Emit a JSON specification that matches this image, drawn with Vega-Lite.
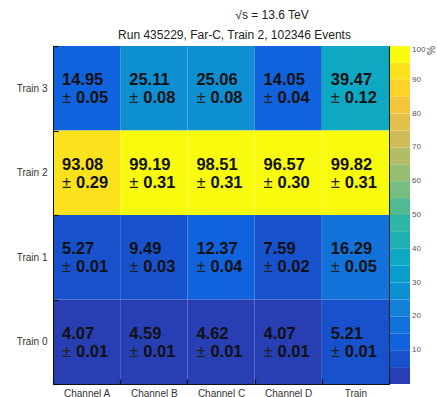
{
  "$schema": "https://vega.github.io/schema/vega-lite/v6.json",
  "width": 336,
  "height": 338,
  "autosize": {"type": "none"},
  "padding": {"left": 53, "top": 46, "right": 48, "bottom": 13},
  "background": "white",
  "title": {"text": "√s = 13.6 TeV", "anchor": "middle", "frame": "group", "dx": 51, "offset": 6, "fontSize": 12, "fontWeight": "normal", "font": "Liberation Sans", "color": "#222"},
  "config": {"font": "Liberation Sans", "view": {"stroke": "#222", "strokeWidth": 1}},
  "data": {"values": [
    {"train": "Train 3", "channel": "Channel A", "value": 14.95, "err": 0.05},
    {"train": "Train 3", "channel": "Channel B", "value": 25.11, "err": 0.08},
    {"train": "Train 3", "channel": "Channel C", "value": 25.06, "err": 0.08},
    {"train": "Train 3", "channel": "Channel D", "value": 14.05, "err": 0.04},
    {"train": "Train 3", "channel": "Train", "value": 39.47, "err": 0.12},
    {"train": "Train 2", "channel": "Channel A", "value": 93.08, "err": 0.29},
    {"train": "Train 2", "channel": "Channel B", "value": 99.19, "err": 0.31},
    {"train": "Train 2", "channel": "Channel C", "value": 98.51, "err": 0.31},
    {"train": "Train 2", "channel": "Channel D", "value": 96.57, "err": 0.30},
    {"train": "Train 2", "channel": "Train", "value": 99.82, "err": 0.31},
    {"train": "Train 1", "channel": "Channel A", "value": 5.27, "err": 0.01},
    {"train": "Train 1", "channel": "Channel B", "value": 9.49, "err": 0.03},
    {"train": "Train 1", "channel": "Channel C", "value": 12.37, "err": 0.04},
    {"train": "Train 1", "channel": "Channel D", "value": 7.59, "err": 0.02},
    {"train": "Train 1", "channel": "Train", "value": 16.29, "err": 0.05},
    {"train": "Train 0", "channel": "Channel A", "value": 4.07, "err": 0.01},
    {"train": "Train 0", "channel": "Channel B", "value": 4.59, "err": 0.01},
    {"train": "Train 0", "channel": "Channel C", "value": 4.62, "err": 0.01},
    {"train": "Train 0", "channel": "Channel D", "value": 4.07, "err": 0.01},
    {"train": "Train 0", "channel": "Train", "value": 5.21, "err": 0.01}
  ]},
  "resolve": {"axis": {"x": "independent", "y": "independent"}},
  "layer": [
    {
      "mark": {"type": "rect"},
      "encoding": {
        "x": {"field": "channel", "type": "nominal", "sort": ["Channel A", "Channel B", "Channel C", "Channel D", "Train"], "scale": {"paddingInner": 0, "paddingOuter": 0},
          "axis": {"orient": "bottom", "title": null, "labelAngle": 0, "tickBand": "extent", "tickSize": -5, "tickWidth": 1.2, "labelPadding": 9, "labelFontSize": 10, "labelColor": "#333", "domainColor": "#111", "tickColor": "#111", "labelFont": "Liberation Sans"}},
        "y": {"field": "train", "type": "nominal", "sort": ["Train 3", "Train 2", "Train 1", "Train 0"], "scale": {"paddingInner": 0, "paddingOuter": 0},
          "axis": {"orient": "left", "title": null, "tickBand": "extent", "tickSize": -5, "tickWidth": 1.2, "labelPadding": 11, "labelFontSize": 10, "labelColor": "#333", "domainColor": "#111", "tickColor": "#111", "labelFont": "Liberation Sans"}},
        "color": {"field": "value", "type": "quantitative",
          "scale": {"type": "quantize", "domain": [0, 100], "nice": false, "range": ["#283fb4", "#1752cc", "#1063dc", "#1272d9", "#1481d6", "#0e8fd1", "#099dcc", "#0ea8c2", "#1eafb3", "#2eb7a4", "#52ba92", "#75bd80", "#96be71", "#b3bd65", "#d1bb59", "#e3c04a", "#f5c63a", "#fdd32b", "#fbe21c", "#f9fb0e"]},
          "legend": {"type": "gradient", "title": "%", "titleOrient": "right", "titleAnchor": "end", "titlePadding": 0, "titleFontSize": 10, "titleFontWeight": "normal", "titleColor": "#444", "values": [0, 5, 10, 15, 20, 25, 30, 35, 40, 45, 50, 55, 60, 65, 70, 75, 80, 85, 90, 95, 100], "format": "d", "labelExpr": "datum.value % 10 === 0 ? datum.label : ''", "labelOverlap": false, "gradientLength": 338, "gradientThickness": 20, "offset": 1, "padding": 0, "labelFontSize": 8, "labelColor": "#555", "labelOffset": 2, "gradientStrokeWidth": 0}}
      }
    },
    {
      "mark": {"type": "text", "align": "left", "baseline": "alphabetic", "dx": 9, "dy": -3, "fontSize": 16.5, "fontWeight": "bold", "color": "#111", "font": "Liberation Sans"},
      "encoding": {
        "x": {"field": "channel", "type": "nominal", "sort": ["Channel A", "Channel B", "Channel C", "Channel D", "Train"], "bandPosition": 0, "axis": null},
        "y": {"field": "train", "type": "nominal", "sort": ["Train 3", "Train 2", "Train 1", "Train 0"], "axis": null},
        "text": {"field": "value", "type": "quantitative", "format": ".2f"}
      }
    },
    {
      "mark": {"type": "text", "align": "left", "baseline": "alphabetic", "dx": 9, "dy": 15, "fontSize": 16.5, "fontWeight": "normal", "color": "#222", "font": "Liberation Sans"},
      "encoding": {
        "x": {"field": "channel", "type": "nominal", "sort": ["Channel A", "Channel B", "Channel C", "Channel D", "Train"], "bandPosition": 0,
          "axis": {"orient": "top", "labels": false, "ticks": false, "domain": false, "title": "Run 435229, Far-C, Train 2, 102346 Events", "titleFontSize": 12, "titleFontWeight": "normal", "titleColor": "#222", "titlePadding": 5, "titleX": 181, "titleFont": "Liberation Sans"}},
        "y": {"field": "train", "type": "nominal", "sort": ["Train 3", "Train 2", "Train 1", "Train 0"], "axis": null},
        "text": {"value": "±"}
      }
    },
    {
      "mark": {"type": "text", "align": "left", "baseline": "alphabetic", "dx": 23, "dy": 15, "fontSize": 16.5, "fontWeight": "bold", "color": "#111", "font": "Liberation Sans"},
      "encoding": {
        "x": {"field": "channel", "type": "nominal", "sort": ["Channel A", "Channel B", "Channel C", "Channel D", "Train"], "bandPosition": 0, "axis": null},
        "y": {"field": "train", "type": "nominal", "sort": ["Train 3", "Train 2", "Train 1", "Train 0"], "axis": null},
        "text": {"field": "err", "type": "quantitative", "format": ".2f"}
      }
    }
  ]
}
